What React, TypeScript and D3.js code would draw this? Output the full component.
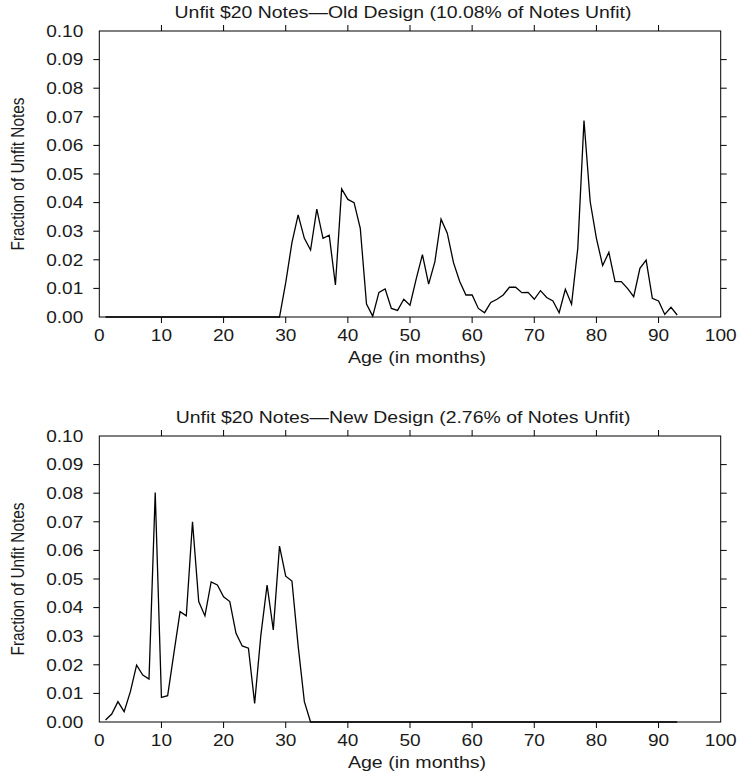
import React from "react";
import * as d3 from "d3";

const oldMonths: number[] = d3.range(1, 94);
const oldValues: number[] = [
  0, 0, 0, 0, 0, 0, 0, 0, 0, 0,
  0, 0, 0, 0, 0, 0, 0, 0, 0, 0,
  0, 0, 0, 0, 0, 0, 0, 0, 0,
  0.012, 0.026, 0.0357, 0.0275, 0.0234, 0.0377, 0.0275, 0.0286, 0.0112, 0.0448, 0.0411,
  0.0400, 0.0310, 0.0045, 0.0003, 0.0086, 0.0098, 0.0030, 0.0023, 0.0062, 0.0041,
  0.0133, 0.0218, 0.0115, 0.0193, 0.0342, 0.0293, 0.0190, 0.0124, 0.0077, 0.0077,
  0.0030, 0.0015, 0.0051, 0.0062, 0.0077, 0.0104, 0.0104, 0.0085, 0.0086, 0.0062,
  0.0092, 0.0068, 0.0056, 0.0015, 0.0097, 0.0045, 0.0240, 0.0687, 0.0403, 0.0275,
  0.0180, 0.0226, 0.0124, 0.0124, 0.0100, 0.0071, 0.0170, 0.0199, 0.0065, 0.0056,
  0.0009, 0.0034, 0.0007,
];

const newMonths: number[] = d3.range(1, 94);
const newValues: number[] = [
  0.0007, 0.0028, 0.0071, 0.0036, 0.0106, 0.0199, 0.0164, 0.0150, 0.0802, 0.0086,
  0.0092, 0.0240, 0.0386, 0.0371, 0.0700, 0.0421, 0.0371, 0.0490, 0.0479, 0.0438,
  0.0421, 0.0310, 0.0266, 0.0258, 0.0065, 0.0304, 0.0479, 0.0322, 0.0615, 0.0510,
  0.0493, 0.0266, 0.0071, 0,
  0, 0, 0, 0, 0, 0, 0, 0, 0, 0,
  0, 0, 0, 0, 0, 0, 0, 0, 0, 0,
  0, 0, 0, 0, 0, 0, 0, 0, 0, 0,
  0, 0, 0, 0, 0, 0, 0, 0, 0, 0,
  0, 0, 0, 0, 0, 0, 0, 0, 0, 0,
  0, 0, 0, 0, 0, 0, 0, 0, 0,
];

const xTicks: number[] = d3.range(0, 101, 10);
const yTicks: number[] = d3.range(0, 11).map((i) => i / 100);
const titles: string[] = [
  "Unfit $20 Notes\u2014Old Design (10.08% of Notes Unfit)",
  "Unfit $20 Notes\u2014New Design (2.76% of Notes Unfit)",
];
const xLabel = "Age (in months)";
const yLabel = "Fraction of Unfit Notes";

const FONT = "'Liberation Sans', Arial, Helvetica, sans-serif";
const LEFT = 99.3;
const RIGHT = 720.7;
const TICK = 6;
const STRETCH = 1.19;
const TEXT_COLOR = "#1a1a1a";

function SText({ x, y, anchor, size, stretch = STRETCH, children }: { x: number; y: number; anchor: string; size: number; stretch?: number; children: React.ReactNode }) {
  return (
    <text
      transform={`translate(${x},${y}) scale(${stretch},1)`}
      textAnchor={anchor}
      fontSize={size}
      fontFamily={FONT}
      fill={TEXT_COLOR}
    >
      {children}
    </text>
  );
}

function Panel({ top, title, months, values }: { top: number; title: string; months: number[]; values: number[] }) {
  const bottom = top + 286;
  const x = d3.scaleLinear().domain([0, 100]).range([LEFT, RIGHT]);
  const y = d3.scaleLinear().domain([0, 0.1]).range([bottom, top]);
  const line = d3
    .line<number>()
    .x((_, i) => x(months[i]))
    .y((d) => y(d));
  const innerX = xTicks.filter((t) => t > 0 && t < 100);
  const innerY = yTicks.filter((t) => t > 0.0001 && t < 0.0999);
  return (
    <g>
      <SText x={403} y={top - 13} anchor="middle" size={16} stretch={1.215}>
        {title}
      </SText>
      <rect x={LEFT} y={top} width={RIGHT - LEFT} height={bottom - top} fill="none" stroke="#000" strokeWidth={1} />
      {innerX.map((t) => (
        <g key={"x" + t}>
          <line x1={x(t)} x2={x(t)} y1={bottom} y2={bottom + TICK} stroke="#000" />
          <line x1={x(t)} x2={x(t)} y1={top} y2={top - TICK} stroke="#000" />
        </g>
      ))}
      {innerY.map((t) => (
        <g key={"y" + t}>
          <line x1={LEFT} x2={LEFT - TICK} y1={y(t)} y2={y(t)} stroke="#000" />
          <line x1={RIGHT} x2={RIGHT + TICK} y1={y(t)} y2={y(t)} stroke="#000" />
        </g>
      ))}
      {xTicks.map((t) => (
        <SText key={"xl" + t} x={x(t)} y={bottom + 24} anchor="middle" size={16}>
          {t}
        </SText>
      ))}
      {yTicks.map((t) => (
        <SText key={"yl" + t} x={LEFT - 16} y={y(t) + 5.7} anchor="end" size={16}>
          {d3.format(".2f")(t)}
        </SText>
      ))}
      <SText x={417} y={bottom + 46} anchor="middle" size={16} stretch={1.225}>
        {xLabel}
      </SText>
      <text
        transform={`translate(24, ${(top + bottom) / 2}) rotate(-90) scale(1,${STRETCH})`}
        textAnchor="middle"
        fontSize={15.4}
        fontFamily={FONT}
        fill={TEXT_COLOR}
      >
        {yLabel}
      </text>
      <path d={line(values) ?? ""} fill="none" stroke="#000" strokeWidth={1.3} strokeLinejoin="miter" />
    </g>
  );
}

export default function App() {
  return (
    <svg width={740} height={774} style={{ position: "absolute", left: 0, top: 0, background: "#fff" }}>
      <rect width={740} height={774} fill="#fff" />
      <Panel top={31} title={titles[0]} months={oldMonths} values={oldValues} />
      <Panel top={436} title={titles[1]} months={newMonths} values={newValues} />
    </svg>
  );
}
